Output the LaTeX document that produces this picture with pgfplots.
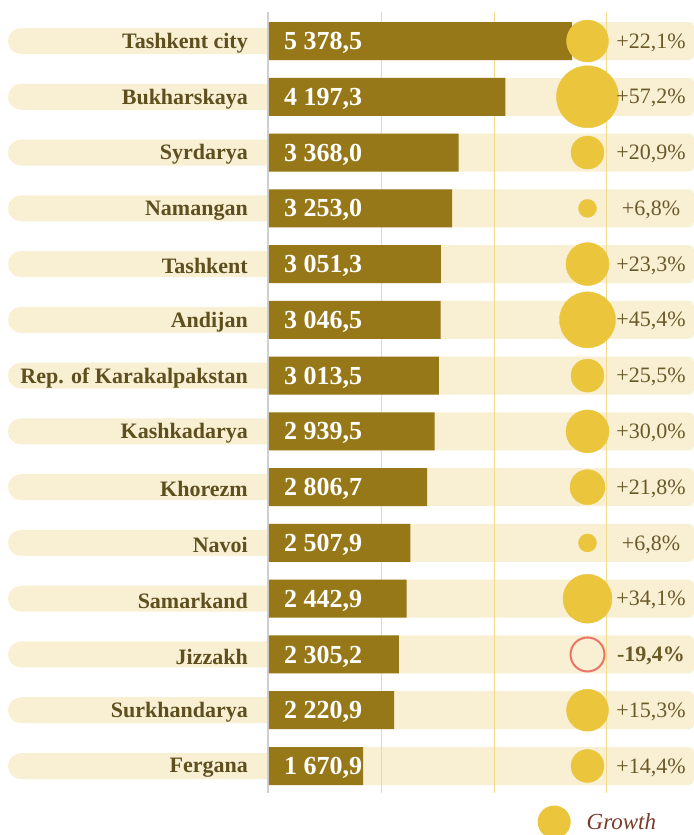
\documentclass[border=0pt]{standalone}
\usepackage{fontspec}
\setmainfont{Liberation Serif}
\usepackage{pgfplots}
\pgfplotsset{compat=1.18}
\usepackage{pgfplotstable}

\definecolor{barc}{HTML}{977818}
\definecolor{cream}{HTML}{F9EFD3}
\definecolor{circ}{HTML}{EBC63C}
\definecolor{gridc}{HTML}{F2DA8C}
\definecolor{labc}{HTML}{5E4F1E}
\definecolor{pctc}{HTML}{6A5A28}
\definecolor{negc}{HTML}{EC7467}
\definecolor{legc}{HTML}{7A3B2A}
\definecolor{axc}{HTML}{CFCFCF}

% row  value  growth  circle diameter (px)
\pgfplotstableread{
row value growth diam
0 5378.5 22.1 42
1 4197.3 57.2 62
2 3368.0 20.9 33
3 3253.0 6.8 18
4 3051.3 23.3 43
5 3046.5 45.4 56
6 3013.5 25.5 33
7 2939.5 30.0 43
8 2806.7 21.8 35
9 2507.9 6.8 18
10 2442.9 34.1 49
11 2305.2 -19.4 36
12 2220.9 15.3 42
13 1670.9 14.4 33
}\data

\pgfplotstableread{
row growth diam
0 22.1 42
1 57.2 62
2 20.9 33
3 6.8 18
4 23.3 43
5 45.4 56
6 25.5 33
7 30.0 43
8 21.8 35
9 6.8 18
10 34.1 49
12 15.3 42
13 14.4 33
}\pos

\pgfplotstableread{
row growth diam
11 -19.4 36
}\neg

\begin{document}
\begin{tikzpicture}
\begin{axis}[
  name=ax,
  axis on top,
  scale only axis,
  width=338pt, height=781pt,
  xmin=0, xmax=6000,
  ymin=-0.52, ymax=13.484,
  y dir=reverse,
  clip=false,
  axis line style={draw=none},
  major tick length=0pt,
  xtick=\empty,
  ytick={0,...,13},
  yticklabels={Tashkent city,Bukharskaya,Syrdarya,Namangan,Tashkent,Andijan,Rep. of Karakalpakstan,Kashkadarya,Khorezm,Navoi,Samarkand,Jizzakh,Surkhandarya,Fergana},
  yticklabel style={anchor=east, inner sep=0pt, xshift=-21pt, yshift=-2pt,
    font=\fontsize{22}{24}\selectfont\bfseries, text=labc},
  legend style={at={(axis cs:4766,14.004)}, anchor=west, draw=none, fill=none,
    inner sep=0pt, font=\fontsize{23}{25}\selectfont\itshape, text=legc},
  legend cell align=left,
]
% row bands
\pgfplotsinvokeforeach{0,...,13}{
  \fill[cream, rounded corners=13pt] ([shift={(-261pt,-13pt)}]axis cs:0,#1) rectangle ([shift={(20pt,13pt)}]axis cs:0,#1);
  \fill[cream, rounded corners=5pt] ([shift={(0pt,-19pt)}]axis cs:0,#1) rectangle ([shift={(425pt,19pt)}]axis cs:0,#1);
}
% grid lines
\pgfplotsinvokeforeach{2000,4000,6000}{
  \draw[gridc, line width=1pt] (axis cs:#1,-0.52) -- (axis cs:#1,13.484);
}
\draw[axc, line width=1.5pt] ([xshift=-1pt]axis cs:0,-0.52) -- ([xshift=-1pt]axis cs:0,13.484);

% bars
\addplot[xbar, bar width=38pt, fill=barc, draw=none, forget plot] table[x=value, y=row]{\data};

% value labels
\addplot[only marks, mark=none, forget plot, point meta=explicit,
  nodes near coords={\pgfmathprintnumber[fixed, fixed zerofill, precision=1, use comma, 1000 sep={\ }, assume math mode=true]{\pgfplotspointmeta}},
  nodes near coords style={anchor=west, xshift=15pt, yshift=-2pt, inner sep=0pt, text=white, font=\fontsize{26}{28}\selectfont\bfseries}]
  table[x expr=0, y=row, meta=value]{\data};

% growth circles
\addplot[scatter, only marks, mark=*, point meta=y,
  scatter/use mapped color={draw=circ, fill=circ},
  visualization depends on={\thisrow{diam}/2 \as \perpointmarksize},
  scatter/@pre marker code/.append style={/tikz/mark size=\perpointmarksize},
  legend image code/.code={\fill[circ, draw=none] (16.5pt,0pt) circle (16.5pt); \path[draw=none, fill=none] (0pt,0pt) rectangle (47pt,0.1pt);}]
  table[x expr=5654, y=row]{\pos};
\addlegendentry{Growth}

\addplot[only marks, mark=o, mark size=17pt, forget plot,
  mark options={draw=negc, line width=2pt}]
  table[x expr=5654, y=row]{\neg};

% percent labels
\addplot[only marks, mark=none, forget plot, point meta=explicit,
  nodes near coords={\pgfmathprintnumber[showpos, fixed, fixed zerofill, precision=1, use comma, assume math mode=true]{\pgfplotspointmeta}\%},
  nodes near coords style={anchor=center, yshift=-1.5pt, text=pctc, font=\fontsize{22}{24}\selectfont}]
  table[x expr=6781, y=row, meta=growth]{\pos};
\addplot[only marks, mark=none, forget plot, point meta=explicit,
  nodes near coords={\pgfmathprintnumber[fixed, fixed zerofill, precision=1, use comma, assume math mode=true]{\pgfplotspointmeta}\%},
  nodes near coords style={anchor=center, yshift=-1.5pt, text=pctc, font=\fontsize{22}{24}\selectfont\bfseries}]
  table[x expr=6781, y=row, meta=growth]{\neg};
\end{axis}
\pgfresetboundingbox
\path[use as bounding box] ([xshift=-269pt,yshift=-42pt]ax.south west) rectangle ([xshift=87pt,yshift=12pt]ax.north east);
\end{tikzpicture}
\end{document}
